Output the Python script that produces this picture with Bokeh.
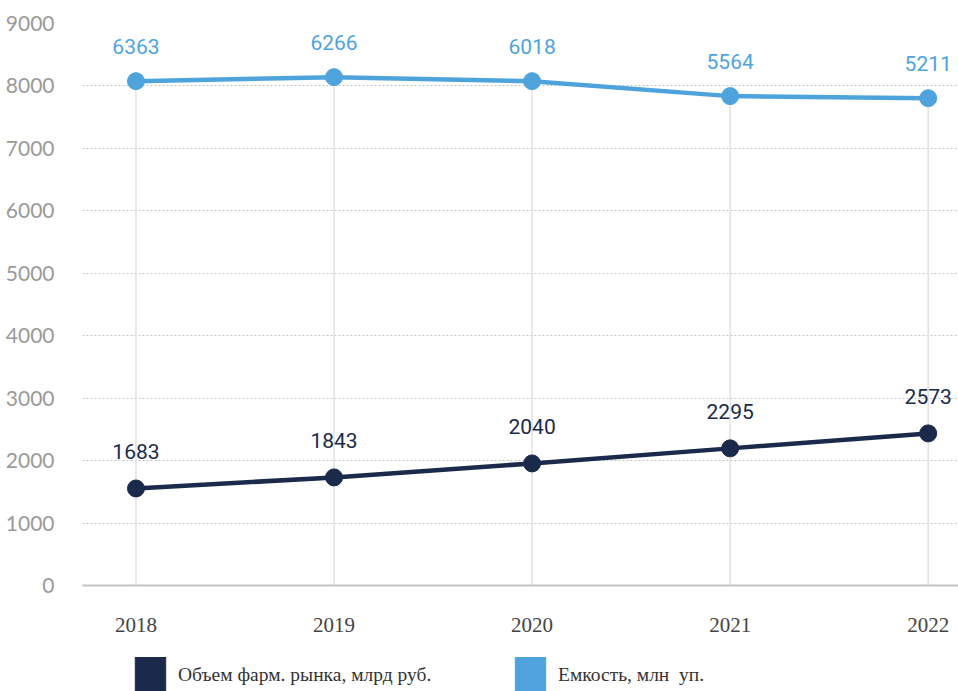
from bokeh.plotting import figure
from bokeh.models import (ColumnDataSource, LabelSet, FixedTicker, Range1d, Legend, LegendItem)
from bokeh.layouts import column
from bokeh.core.properties import value
from bokeh.embed import file_html
from bokeh.resources import INLINE

years = [2018, 2019, 2020, 2021, 2022]
# plotted positions as drawn in the picture
market_y = [1554, 1731, 1955, 2196, 2436]
market_labels = ["1683", "1843", "2040", "2295", "2573"]
capacity_y = [8077, 8141, 8077, 7837, 7804]
capacity_labels = ["6363", "6266", "6018", "5564", "5211"]
y_ticks = [0, 1000, 2000, 3000, 4000, 5000, 6000, 7000, 8000, 9000]
legend_market = "Объем фарм. рынка, млрд руб."
legend_capacity = "Емкость, млн  уп."

DARK = "#1b2a4a"
LIGHT = "#4fa3dd"

p = figure(width=958, height=657, output_backend="svg", toolbar_location=None,
           x_range=Range1d(2017.73, 2022.153), y_range=Range1d(0, 9000),
           min_border_left=82, min_border_right=0, min_border_top=23, min_border_bottom=72)
p.outline_line_color = None
p.background_fill_color = "white"

# grids
p.xgrid.grid_line_color = None
p.ygrid.ticker = FixedTicker(ticks=y_ticks)
p.ygrid.grid_line_color = "#c4c4c4"
p.ygrid.grid_line_dash = "2 2"
p.ygrid.grid_line_width = 1.2

# vertical lines from 0 up to the upper series
p.segment(x0=years, y0=[0] * len(years), x1=years, y1=capacity_y,
          line_color="#e2e2e2", line_width=1.5)

# axes
p.yaxis.ticker = FixedTicker(ticks=y_ticks)
p.yaxis.axis_line_color = None
p.yaxis.major_tick_line_color = None
p.yaxis.minor_tick_line_color = None
p.yaxis.major_label_standoff = 22
p.yaxis.major_label_text_font = "Lato"
p.yaxis.major_label_text_font_size = "21px"
p.yaxis.major_label_text_color = "#9a9a9a"

p.xaxis.ticker = FixedTicker(ticks=years)
p.xaxis.axis_line_color = "#c4c4c4"
p.xaxis.axis_line_width = 2
p.xaxis.major_tick_line_color = None
p.xaxis.minor_tick_line_color = None
p.xaxis.major_label_standoff = 26
p.xaxis.major_label_text_font = "Liberation Serif"
p.xaxis.major_label_text_font_size = "21px"
p.xaxis.major_label_text_color = "#444444"

# series
src_m = ColumnDataSource(dict(x=years, y=market_y, t=market_labels))
src_c = ColumnDataSource(dict(x=years, y=capacity_y, t=capacity_labels))

p.line("x", "y", source=src_c, line_color=LIGHT, line_width=4.5)
p.scatter("x", "y", source=src_c, size=17, fill_color=LIGHT, line_color=LIGHT)
p.line("x", "y", source=src_m, line_color=DARK, line_width=4.5)
p.scatter("x", "y", source=src_m, size=17, fill_color=DARK, line_color=DARK)

p.add_layout(LabelSet(x="x", y="y", text="t", source=src_c, y_offset=35,
                      text_align="center", text_baseline="middle",
                      text_font=value("Roboto"), text_font_size="21px",
                      text_color=LIGHT))
p.add_layout(LabelSet(x="x", y="y", text="t", source=src_m, y_offset=37,
                      text_align="center", text_baseline="middle",
                      text_font=value("Roboto"), text_font_size="21px",
                      text_color=DARK))

# legend strip below the chart (swatch renderers kept outside the visible range)
lf = figure(width=958, height=34, output_backend="svg", toolbar_location=None,
            x_axis_type=None, y_axis_type=None, x_range=Range1d(0, 1), y_range=Range1d(0, 1),
            min_border_left=0, min_border_right=0, min_border_top=0, min_border_bottom=0)
lf.outline_line_color = None
lf.grid.grid_line_color = None
r_m = lf.quad(left=[5], right=[6], top=[6], bottom=[5], fill_color=DARK, line_color=DARK)
r_c = lf.quad(left=[5], right=[6], top=[6], bottom=[5], fill_color=LIGHT, line_color=LIGHT)

def make_legend(label, r, x):
    return Legend(items=[LegendItem(label=label, renderers=[r])], location=(x, -7),
                  glyph_width=38, glyph_height=46, label_standoff=9,
                  padding=0, margin=0, spacing=0, border_line_color=None,
                  background_fill_alpha=0,
                  label_text_font="Liberation Serif", label_text_font_size="19.5px",
                  label_text_color="#333333")

lf.add_layout(make_legend(legend_market, r_m, 49))
lf.add_layout(make_legend(legend_capacity, r_c, 429))

open("out.html", "w").write(file_html(column(p, lf), INLINE))
